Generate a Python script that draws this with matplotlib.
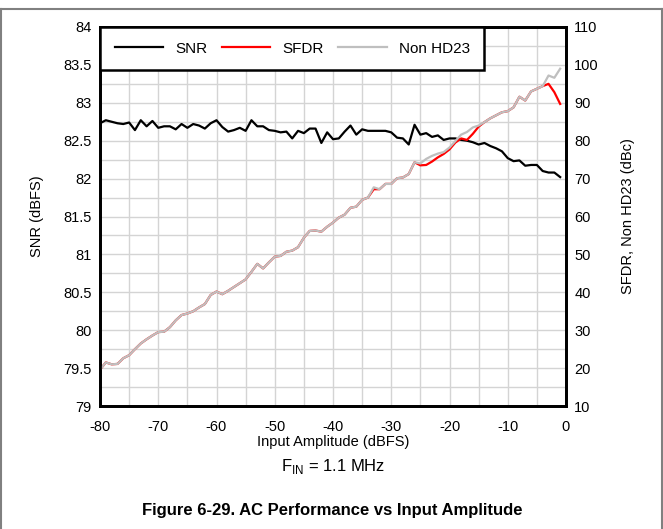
import numpy as np
import matplotlib
matplotlib.use("Agg")
import matplotlib.pyplot as plt
from matplotlib.lines import Line2D

plt.rcParams['font.family'] = ['Liberation Sans', 'DejaVu Sans']

# input amplitude, dBFS
amp = list(range(-80, 0))

snr = [82.73, 82.77, 82.75, 82.73, 82.72, 82.74, 82.64, 82.77, 82.69, 82.76,
       82.67, 82.69, 82.69, 82.65, 82.72, 82.67, 82.72, 82.70, 82.66, 82.73,
       82.77, 82.68, 82.62, 82.64, 82.67, 82.63, 82.77, 82.69, 82.69, 82.64,
       82.63, 82.61, 82.62, 82.53, 82.63, 82.60, 82.66, 82.66, 82.47, 82.61,
       82.52, 82.53, 82.62, 82.70, 82.58, 82.65, 82.63, 82.63, 82.63, 82.63,
       82.61, 82.54, 82.53, 82.45, 82.71, 82.58, 82.60, 82.55, 82.57, 82.51,
       82.53, 82.53, 82.51, 82.50, 82.48, 82.45, 82.47, 82.43, 82.40, 82.36,
       82.27, 82.23, 82.24, 82.17, 82.18, 82.18, 82.10, 82.08, 82.08, 82.02]

non_hd23 = [19.6, 21.5, 21.0, 21.1, 22.6, 23.4, 25.0, 26.5, 27.6, 28.6,
            29.5, 29.6, 30.8, 32.6, 34.0, 34.4, 35.0, 36.0, 36.9, 39.3,
            40.2, 39.5, 40.4, 41.4, 42.4, 43.4, 45.4, 47.5, 46.3, 47.9,
            49.4, 49.6, 50.7, 51.0, 51.9, 54.4, 56.2, 56.3, 56.0, 57.3,
            58.4, 59.7, 60.5, 62.3, 62.6, 64.4, 65.0, 67.7, 67.2, 68.6,
            68.6, 70.1, 70.3, 71.2, 74.3, 74.0, 75.2, 76.0, 76.6, 77.0,
            78.2, 79.9, 81.6, 82.3, 83.5, 84.0, 84.9, 85.9, 86.7, 87.5,
            87.8, 88.8, 91.6, 90.6, 93.0, 93.7, 94.4, 97.2, 96.6, 99.0]

sfdr = [19.6, 21.5, 21.0, 21.1, 22.6, 23.4, 25.0, 26.5, 27.6, 28.6,
        29.5, 29.6, 30.8, 32.6, 34.0, 34.4, 35.0, 36.0, 36.9, 39.3,
        40.2, 39.5, 40.4, 41.4, 42.4, 43.4, 45.4, 47.5, 46.3, 47.9,
        49.4, 49.6, 50.7, 51.0, 51.9, 54.4, 56.2, 56.3, 56.0, 57.3,
        58.4, 59.7, 60.5, 62.3, 62.6, 64.4, 65.0, 67.2, 67.2, 68.6,
        68.6, 70.1, 70.3, 71.2, 74.3, 73.5, 73.6, 74.5, 75.6, 76.5,
        77.7, 79.5, 80.6, 80.2, 81.8, 83.7, 84.9, 85.9, 86.7, 87.5,
        87.8, 88.8, 91.6, 90.6, 93.0, 93.7, 94.4, 95.0, 92.8, 89.7]

left_ticks = [79, 79.5, 80, 80.5, 81, 81.5, 82, 82.5, 83, 83.5, 84]
right_ticks = [10, 20, 30, 40, 50, 60, 70, 80, 90, 100, 110]
x_ticks = [-80, -70, -60, -50, -40, -30, -20, -10, 0]

fig = plt.figure(figsize=(6.63, 5.29), dpi=100)
ax = fig.add_axes([100/663, 1 - 406/529, 466/663, 379/529])
ax2 = ax.twinx()

# grid
ax.set_xticks(np.arange(-80, 1, 5), minor=True)
ax.set_yticks(np.arange(79, 84.01, 0.25), minor=True)
ax.grid(True, which='both', color='#d4d4d4', lw=1.0)
ax.set_axisbelow(True)

ax.plot(amp, snr, color='black', lw=1.6, label='SNR')
ax2.plot(amp, sfdr, color='#ff0000', lw=1.6, label='SFDR')
ax2.plot(amp, non_hd23, color='#bfbfbf', lw=1.6, label='Non HD23')

ax.set_xlim(-80, 0)
ax.set_ylim(79, 84)
ax2.set_ylim(10, 110)
ax.set_xticks(x_ticks)
ax.set_xticklabels([str(t) for t in x_ticks])
ax.set_yticks(left_ticks)
ax.set_yticklabels(['{:g}'.format(t) for t in left_ticks])
ax2.set_yticks(right_ticks)
ax2.set_yticklabels([str(t) for t in right_ticks])

for a in (ax, ax2):
    a.tick_params(which='both', length=0, labelsize=10.5, pad=6)
    for s in a.spines.values():
        s.set_linewidth(2)
        s.set_color('black')
ax.tick_params(axis='x', pad=10)

ax.set_xlabel('Input Amplitude (dBFS)', fontsize=10.5, labelpad=1)
ax.set_ylabel('SNR (dBFS)', fontsize=10.5, labelpad=14)
ax2.set_ylabel('SFDR, Non HD23 (dBc)', fontsize=10.5, labelpad=16)

handles = [Line2D([], [], color='black', lw=1.6),
           Line2D([], [], color='#ff0000', lw=1.6),
           Line2D([], [], color='#bfbfbf', lw=1.6)]
leg = ax2.legend(handles, ['SNR', 'SFDR', 'Non HD23'], ncol=3, loc='upper left',
                 bbox_to_anchor=(0, 1), borderaxespad=0, fontsize=11,
                 fancybox=False, framealpha=1, edgecolor='black',
                 handlelength=3.2, columnspacing=0.9, handletextpad=0.8,
                 borderpad=0.95)
leg.get_frame().set_linewidth(1.8)

fig.text(333/663, 1 - 467/529, r'F$_{\mathregular{IN}}$ = 1.1 MHz', ha='center', va='center', fontsize=12)
fig.text(332/663, 1 - 511/529, 'Figure 6-29. AC Performance vs Input Amplitude',
         ha='center', va='center', fontsize=12, fontweight='bold')

# outer frame lines
top = 1 - 9/529
fig.add_artist(Line2D([0, 1], [top, top], color='#808080', lw=1.5, transform=fig.transFigure))
fig.add_artist(Line2D([0.001, 0.001], [0, top], color='#808080', lw=1.5, transform=fig.transFigure))
fig.add_artist(Line2D([0.998, 0.998], [0, top], color='#808080', lw=1.5, transform=fig.transFigure))

fig.savefig('out.png', dpi=100)
